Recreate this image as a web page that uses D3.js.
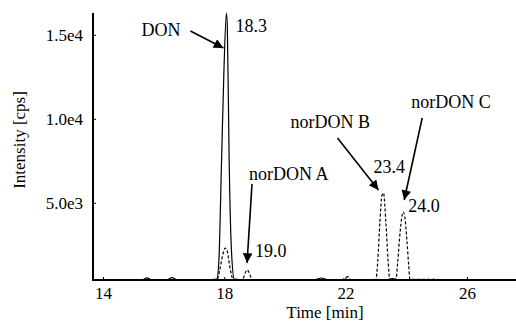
<!DOCTYPE html>
<html>
<head>
<meta charset="utf-8">
<style>
    body { margin: 0; background: #fff; }
    .axis path { stroke: #000; stroke-width: 2; }
    .axis line { stroke: #000; stroke-width: 1; }
    .trace { fill: none; stroke: #000; stroke-width: 1.2; }
    .dashed { stroke-dasharray: 3 2; }
    .arrow { stroke: #000; stroke-width: 1.6; }
</style>
</head>
<body>
<svg id="chart" width="516" height="326"></svg>
<script src="https://cdn.jsdelivr.net/npm/d3@7"></script>
<script>
    // DON trace (solid), min / intensity pairs
    const donTime = [13.67, 15.3, 15.45, 15.6, 16.1, 16.28, 16.45, 17.6, 17.75, 17.82, 17.91, 17.99, 18.07, 18.1, 18.16, 18.24, 18.33, 18.5, 21.0, 21.2, 21.4, 23.4, 23.55, 23.7, 27.62];
    const donInt  = [420, 420, 530, 420, 420, 540, 420, 430, 450, 1500, 7540, 13000, 16300, 15500, 7540, 2000, 450, 420, 420, 520, 420, 430, 480, 420, 420];

    // norDON trace (dashed)
    const norTime = [13.67, 17.76, 17.85, 17.95, 18.03, 18.1, 18.18, 18.3, 18.55, 18.62, 18.75, 18.85, 18.91, 19.5, 21.9, 22.0, 22.1, 22.15, 23.0, 23.06, 23.13, 23.2, 23.25, 23.33, 23.4, 23.46, 23.66, 23.72, 23.8, 23.9, 23.95, 24.02, 24.08, 24.12, 27.62];
    const norInt  = [400, 420, 1000, 1900, 2300, 2100, 1200, 430, 420, 500, 1000, 700, 430, 420, 420, 550, 600, 420, 430, 1500, 3800, 5450, 5580, 3800, 1600, 440, 430, 1500, 3300, 4450, 4200, 2800, 1300, 440, 420];

    // labelled peaks
    const peakNames  = ["DON", "norDON A", "norDON B", "norDON C"];
    const peakLabels = ["18.3", "19.0", "23.4", "24.0"];
    const peakTime   = [18.07, 18.75, 23.25, 23.9];
    const peakInt    = [16300, 1000, 5580, 4450];

    const xTicks = [14, 18, 22, 26];
    const yTicks = [5000, 10000, 15000];
    const yTickLabels = ["5.0e3", "1.0e4", "1.5e4"];

    const serif = "'Liberation Serif', 'DejaVu Serif', 'Times New Roman', serif";
    const svg = d3.select("#chart");

    const x = d3.scaleLinear().domain([13.67, 27.62]).range([93, 516]);
    const y = d3.scaleLinear().domain([400, 16300]).range([280, 13]);

    // axes
    svg.append("g")
        .attr("class", "axis")
        .attr("transform", "translate(0,280)")
        .call(d3.axisBottom(x).tickValues(xTicks).tickSizeInner(-3).tickSizeOuter(0).tickPadding(7))
        .call(g => g.select(".domain").attr("d", "M93,0H516"));

    svg.append("g")
        .attr("class", "axis")
        .attr("transform", "translate(93,0)")
        .call(d3.axisLeft(y).tickValues(yTicks).tickSizeInner(-3).tickSizeOuter(0).tickPadding(10)
            .tickFormat((d, i) => yTickLabels[i]))
        .call(g => g.select(".domain").attr("d", "M0,13V281"));

    svg.selectAll(".axis text").attr("font-size", 17);

    svg.append("text")
        .attr("transform", "translate(25,140) rotate(-90)")
        .attr("text-anchor", "middle")
        .attr("font-size", 17)
        .text("Intensity [cps]");

    svg.append("text")
        .attr("x", 325).attr("y", 318)
        .attr("text-anchor", "middle")
        .attr("font-size", 17)
        .text("Time [min]");

    // traces
    const line = d3.line()
        .x(d => x(d[0]))
        .y(d => y(d[1]))
        .curve(d3.curveMonotoneX);

    svg.append("path")
        .datum(donTime.map((t, i) => [t, donInt[i]]))
        .attr("class", "trace")
        .attr("d", line);

    svg.append("path")
        .datum(norTime.map((t, i) => [t, norInt[i]]))
        .attr("class", "trace dashed")
        .attr("d", line);

    // arrows + labels, offsets in px from each peak top
    svg.append("defs").append("marker")
        .attr("id", "head")
        .attr("viewBox", "0 0 10 10")
        .attr("refX", 10).attr("refY", 5)
        .attr("markerWidth", 7).attr("markerHeight", 6)
        .attr("markerUnits", "strokeWidth")
        .attr("orient", "auto")
        .append("path").attr("d", "M0,0L10,5L0,10z").attr("fill", "#000");

    const nameOff  = [[-46, 23, "end"], [2, -90, "start"], [-93, -65, "start"], [8, -104, "start"]];
    const arrowOff = [[-36, 18, -3, 35], [5, -86, 0, -7], [-46, -55, -5, -3], [19, -94, 1, -12]];
    const valOff   = [[9, 19], [8, -13], [-10, -20], [5, 0]];

    peakNames.forEach((name, i) => {
        const px = x(peakTime[i]), py = y(peakInt[i]);
        svg.append("text")
            .attr("x", px + nameOff[i][0]).attr("y", py + nameOff[i][1])
            .attr("text-anchor", nameOff[i][2])
            .attr("font-size", 18)
            .text(name);
        svg.append("line").attr("class", "arrow")
            .attr("x1", px + arrowOff[i][0]).attr("y1", py + arrowOff[i][1])
            .attr("x2", px + arrowOff[i][2]).attr("y2", py + arrowOff[i][3])
            .attr("marker-end", "url(#head)");
        svg.append("text")
            .attr("x", px + valOff[i][0]).attr("y", py + valOff[i][1])
            .attr("font-size", 18)
            .text(peakLabels[i]);
    });

    // serif everywhere, like the printed figure
    svg.selectAll("text").attr("font-family", serif).style("font-family", serif).attr("fill", "#000");
</script>
</body>
</html>
